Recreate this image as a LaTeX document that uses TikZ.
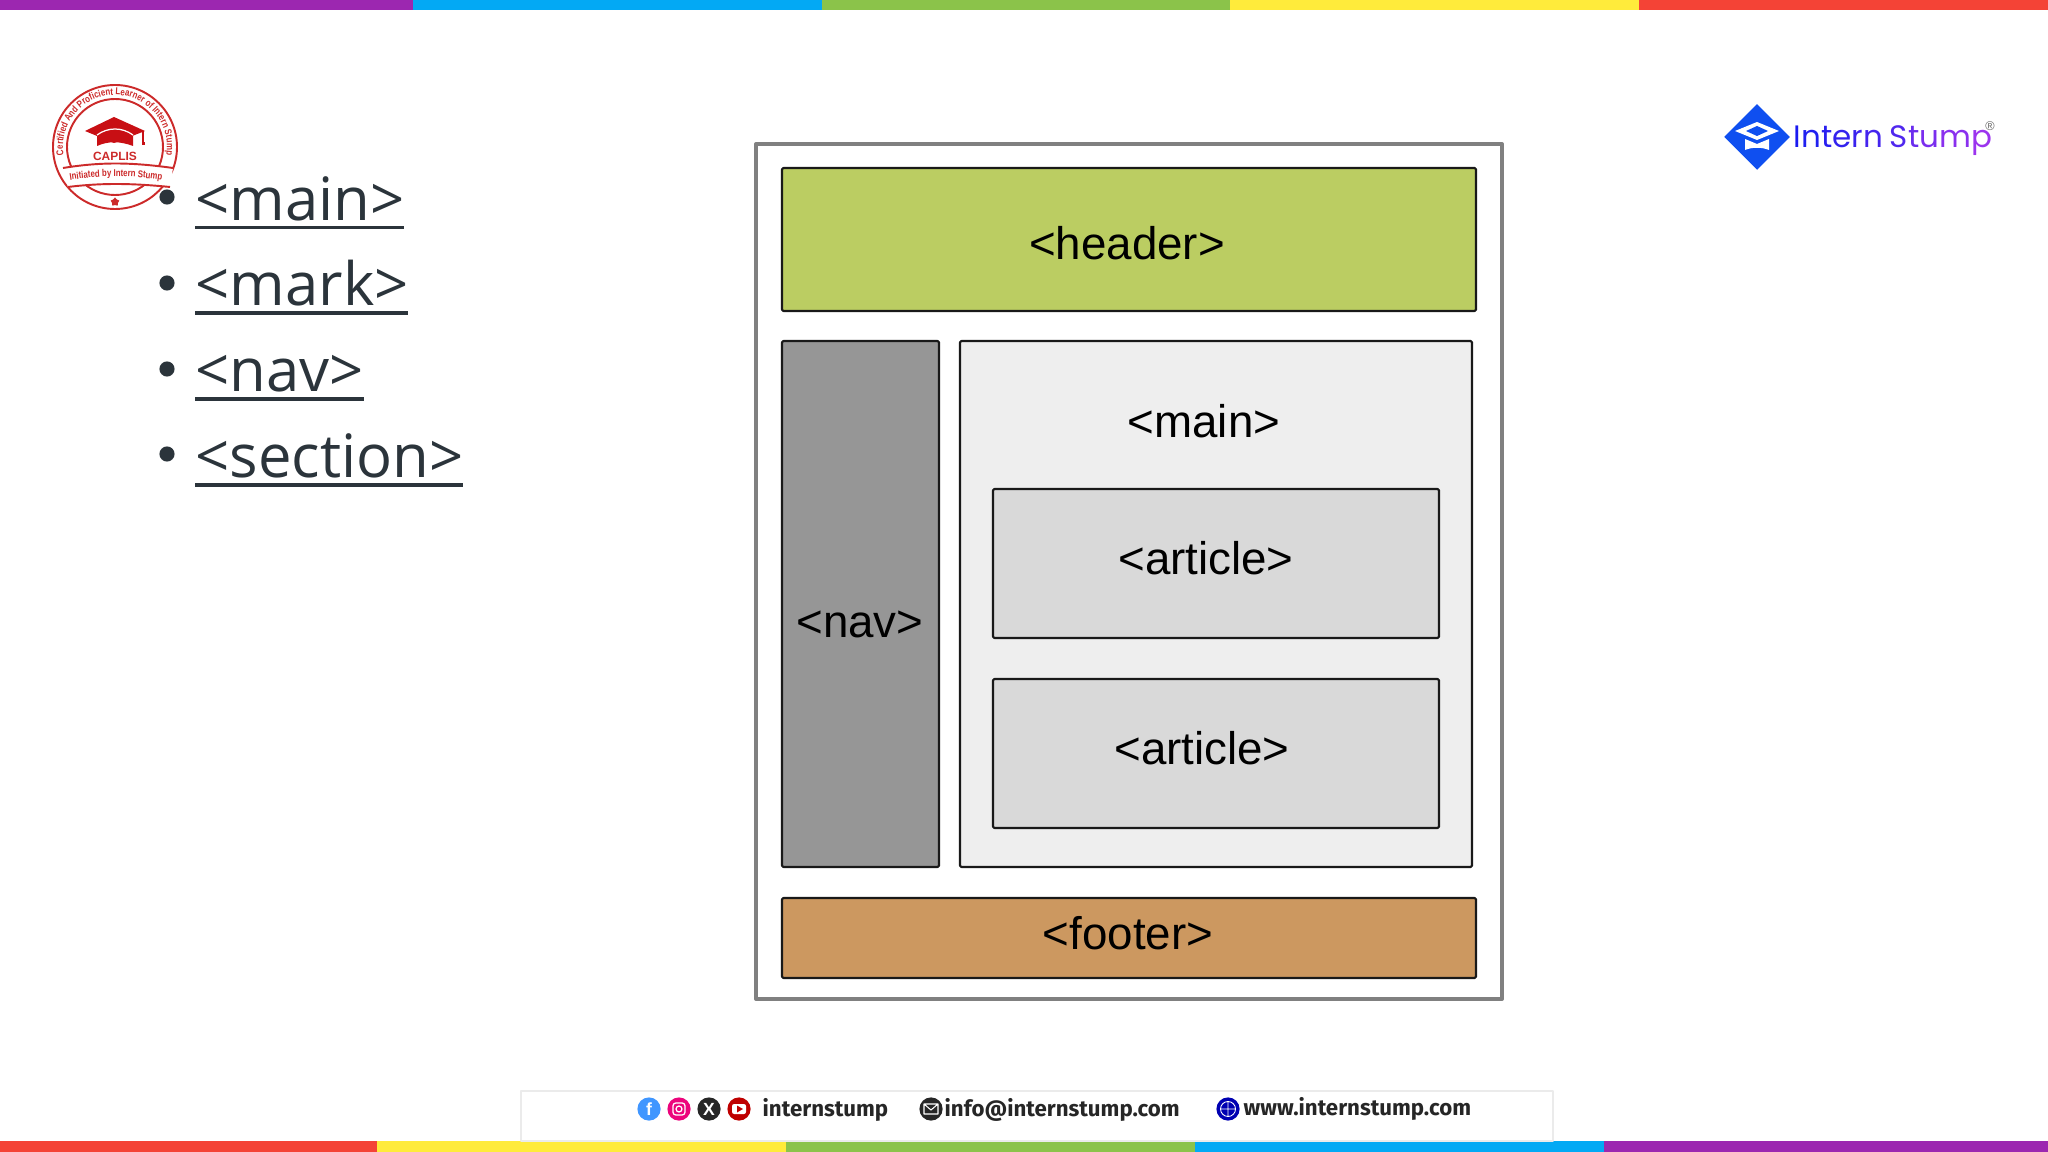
\documentclass[tikz,border=0pt]{standalone}
\usepackage{fontspec}
\setmainfont{Open Sans}
\newfontfamily\tagfont{Liberation Sans}
\newfontfamily\sealfont[FakeStretch=0.8]{Liberation Sans}
\newfontfamily\logofont{Poppins}
\newfontfamily\barfont{Fira Sans}
\definecolor{ink}{HTML}{2B343B}
\definecolor{barpurple}{HTML}{9C27B0}
\definecolor{barblue}{HTML}{03A9F4}
\definecolor{bargreen}{HTML}{8BC34A}
\definecolor{baryellow}{HTML}{FFEB3B}
\definecolor{barred}{HTML}{F44336}
\definecolor{headerfill}{HTML}{BBCD62}
\definecolor{navfill}{HTML}{969696}
\definecolor{mainfill}{HTML}{EEEEEE}
\definecolor{articlefill}{HTML}{D9D9D9}
\definecolor{footerfill}{HTML}{CC9860}
\definecolor{seal}{HTML}{CC2A2A}
\definecolor{capred}{HTML}{C80F14}
\definecolor{logoblue}{HTML}{0F4FF0}
\usetikzlibrary{
  calc,
  shapes.geometric,
  decorations.text
}
\tikzset{
  every picture/.style={line join=round},
  bar/.style={draw=none},
  frame/.style={draw=black!50, line width=1.1pt, fill=white},
  layoutbox/.style={draw=black!90, line width=0.6pt, rounded corners=0.4pt},
  tag/.style={font=\tagfont\fontsize{13}{15}\selectfont, text=black, inner sep=0pt},
  linkitem/.style={font=\fontsize{17}{20}\selectfont, text=ink, inner sep=0pt, anchor=base west},
  linkline/.style={draw=ink, line width=1pt},
  dot/.style={circle, fill=ink, minimum size=4.3pt, inner sep=0pt},
  sealline/.style={draw=seal, line width=0.55pt},
  contact/.style={font=\barfont\bfseries\fontsize{6.33}{8}\selectfont, text=black!85, inner sep=0pt, anchor=west},
  icon/.style={circle, minimum size=6.6pt, inner sep=0pt, text=white, font=\tagfont\bfseries\fontsize{5}{5}\selectfont}
}
\newcommand{\logoletter}[2]{\textcolor[HTML]{#1}{#2}}
\begin{document}
\begin{tikzpicture}[x=0.01cm, y=0.01cm]
  \useasboundingbox (0,0) rectangle (2048,-1152);

  % Colour strip (top)
  \fill[bar, barpurple] (0,0) rectangle (413,-10);
  \fill[bar, barblue] (413,0) rectangle (822,-10);
  \fill[bar, bargreen] (822,0) rectangle (1230,-10);
  \fill[bar, baryellow] (1230,0) rectangle (1639,-10);
  \fill[bar, barred] (1639,0) rectangle (2048,-10);

  % Colour strip (bottom)
  \fill[bar, barred] (0,-1141) rectangle (377,-1152);
  \fill[bar, baryellow] (377,-1141) rectangle (786,-1152);
  \fill[bar, bargreen] (786,-1141) rectangle (1195,-1152);
  \fill[bar, barblue] (1195,-1141) rectangle (1604,-1152);
  \fill[bar, barpurple] (1604,-1141) rectangle (2048,-1152);

  % Seal (top left)
  \draw[sealline] (115,-147) circle (62);
  \draw[sealline] (115,-147) circle (48);
  \path[decorate, decoration={text along path, text align=center,
      text={|\sealfont\bfseries\fontsize{2.8}{3}\selectfont\color{seal}|Certified And Proficient Learner of Intern Stump}}]
    (115,-147) ++(202:52) arc (202:-22:52);
  \fill[white] (63,-168) .. controls (100,-162) and (130,-162) .. (173,-168)
    -- (170,-187) .. controls (130,-183) and (100,-183) .. (68,-187) -- cycle;
  \draw[sealline] (63,-168) .. controls (100,-162) and (130,-162) .. (173,-168);
  \draw[sealline] (68,-187) .. controls (100,-183) and (130,-183) .. (170,-187);
  \path[decorate, decoration={text along path, text align=center,
      text={|\sealfont\bfseries\fontsize{2.8}{3}\selectfont\color{seal}|Initiated by Intern Stump}}]
    (64,-181) .. controls (100,-175) and (130,-175) .. (168,-181);
  \node[star, star points=5, fill=seal, minimum size=2.6pt, inner sep=0pt] (sealstar) at (115,-202) {};
  % Graduation cap
  \fill[capred] (114,-117) -- (85,-131) -- (114,-143) -- (145,-131) -- cycle;
  \fill[capred] (97,-135) -- (114,-129) -- (133,-135) -- (133,-146)
    .. controls (120,-141) and (108,-141) .. (97,-146) -- cycle;
  \draw[white, line width=0.35pt] (97,-135) .. controls (108,-127) and (122,-127) .. (133,-135);
  \draw[capred, line width=0.5pt] (143,-131) -- (143,-144);
  \fill[capred] (142,-142) rectangle (145,-145);
  \node[font=\tagfont\bfseries\fontsize{3.4}{4}\selectfont, text=seal, inner sep=0pt] (caplis) at (115,-156) {CAPLIS};

  % Bullet list (left)
  \node[dot] (dotmain) at (167,-197) {};
  \node[dot] (dotmark) at (167,-283) {};
  \node[dot] (dotnav) at (167,-369) {};
  \node[dot] (dotsection) at (167,-454) {};
  \node[linkitem] (linkmain) at (195,-220.5) {<main>};
  \node[linkitem] (linkmark) at (195,-306) {<mark>};
  \node[linkitem] (linknav) at (195,-392) {<nav>};
  \node[linkitem] (linksection) at (195,-478) {<section>};
  \draw[linkline] ($(linkmain.base west)+(0,-7)$) -- ($(linkmain.base east)+(-1,-7)$);
  \draw[linkline] ($(linkmark.base west)+(0,-7)$) -- ($(linkmark.base east)+(-1,-7)$);
  \draw[linkline] ($(linknav.base west)+(0,-7)$) -- ($(linknav.base east)+(-1,-7)$);
  \draw[linkline] ($(linksection.base west)+(0,-7)$) -- ($(linksection.base east)+(-1,-7)$);

  % Page layout (centre)
  \draw[frame] (756,-144) rectangle (1502,-999);
  \draw[layoutbox, fill=headerfill] (782,-168) rectangle (1476,-311);
  \draw[layoutbox, fill=navfill] (782,-341) rectangle (939,-867);
  \draw[layoutbox, fill=mainfill] (960,-341) rectangle (1472,-867);
  \draw[layoutbox, fill=articlefill] (993,-489) rectangle (1439,-638);
  \draw[layoutbox, fill=articlefill] (993,-679) rectangle (1439,-828);
  \draw[layoutbox, fill=footerfill] (782,-898) rectangle (1476,-978);
  \node[tag] (headertag) at (1127,-243) {<header>};
  \node[tag] (navtag) at (860,-624) {<nav>};
  \node[tag] (maintag) at (1204,-421) {<main>};
  \node[tag] (articletagA) at (1206,-558) {<article>};
  \node[tag] (articletagB) at (1202,-748) {<article>};
  \node[tag] (footertag) at (1128,-933) {<footer>};

  % Logo (top right)
  \node[diamond, aspect=1, fill=logoblue, minimum size=18.8pt, inner sep=0pt] (logomark) at (1757,-137) {};
  \fill[white] (1757,-122) -- (1735,-131) -- (1757,-140) -- (1779,-131) -- cycle;
  \fill[logoblue] (1757,-126) -- (1746,-131) -- (1757,-136) -- (1768,-131) -- cycle;
  \fill[white] (1745,-139) -- (1757,-144) -- (1769,-139) -- (1769,-150)
    .. controls (1762,-147) and (1752,-147) .. (1745,-150) -- cycle;
  \node[font=\logofont\fontsize{8.8}{10}\selectfont, inner sep=0pt, anchor=base west] (logotext) at (1793,-148)
    {\logoletter{1A1AF0}{I}\logoletter{2020F0}{n}\logoletter{2A20F0}{t}\logoletter{3322EE}{e}\logoletter{3A22EE}{r}\logoletter{4424EE}{n}\kern2pt\logoletter{5028EE}{S}\logoletter{6A2CEE}{t}\logoletter{7A2EEE}{u}\logoletter{8A30EE}{m}\logoletter{9C34EE}{p}};
  \node[font=\tagfont\fontsize{3.6}{4}\selectfont, text=black!60, inner sep=0pt] (logoreg) at (1990,-126) {\textregistered};

  % Contact bar (bottom)
  \draw[draw=black!8, line width=0.3pt, fill=white] (521,-1091) rectangle (1553,-1141);
  \node[icon, fill=blue!55!cyan!75] (iconfb) at (649,-1109) {f};
  \node[icon, fill=magenta!85!red] (iconig) at (679,-1109) {};
  \draw[white, line width=0.35pt, rounded corners=0.8pt] (673,-1103) rectangle (685,-1115);
  \draw[white, line width=0.35pt] (679,-1109) circle (3);
  \node[icon, fill=black!85] (iconx) at (709,-1109) {X};
  \node[icon, fill=red!75!black] (iconyt) at (739,-1109) {};
  \fill[white, rounded corners=0.6pt] (732,-1104) rectangle (746,-1114);
  \fill[red!75!black] (737,-1105.5) -- (743,-1109) -- (737,-1112.5) -- cycle;
  \node[contact] (handle) at (762,-1109.5) {internstump};
  \node[icon, fill=black!85] (iconmail) at (931,-1109) {};
  \draw[white, line width=0.3pt] (924,-1104) rectangle (938,-1114) (924,-1104) -- (931,-1110) -- (938,-1104);
  \node[contact] (mail) at (944,-1109.5) {info@internstump.com};
  \node[icon, fill=blue!70!black] (iconweb) at (1228,-1109) {};
  \draw[white, line width=0.25pt] (1228,-1109) circle (7.5) (1220.5,-1109) -- (1235.5,-1109) (1228,-1101.5) -- (1228,-1116.5);
  \node[contact] (web) at (1243,-1109) {www.internstump.com};
\end{tikzpicture}
\end{document}
